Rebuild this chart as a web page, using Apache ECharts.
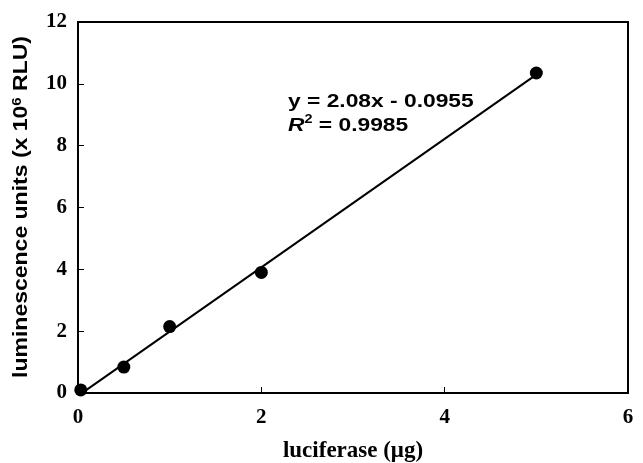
<!DOCTYPE html>
<html lang="en">
<head>
    <meta charset="UTF-8">
    <title>luciferase standard curve</title>
    <script type="text/javascript" src="https://cdn.jsdelivr.net/npm/echarts@6/dist/echarts.min.js"></script>
    <style type="text/css">
        html, body { margin: 0; padding: 0; background: #ffffff; }
        #main { width: 643px; height: 463px; }
    </style>
</head>
<body>
<div id="main"></div>
<script type="text/javascript">
    // measured points: luciferase (ug) vs luminescence (x 10^6 RLU)
    var luciferase = [0.03, 0.5, 1, 2, 5];
    var luminescence = [0.1, 0.84, 2.15, 3.9, 10.35];
    // linear fit endpoints
    var fitX = [0.05, 5];
    var fitY = [0.01, 10.3];
    var xTicks = [0, 2, 4, 6];
    var yTicks = [0, 2, 4, 6, 8, 10, 12];

    var pts = [];
    for (var i = 0; i < luciferase.length; i++) {
        pts.push([luciferase[i], luminescence[i]]);
    }
    var fit = [];
    for (var j = 0; j < fitX.length; j++) {
        fit.push([fitX[j], fitY[j]]);
    }

    var chart = echarts.init(document.getElementById('main'));
    var serifBold = {
        fontFamily: 'Liberation Serif',
        fontWeight: 'bold',
        fontSize: 21,
        color: '#000'
    };
    chart.setOption({
        animation: false,
        grid: {
            left: 78, right: 15, top: 22, bottom: 70,
            outerBoundsMode: 'none',
            containLabel: false,
            show: true, borderColor: '#000', borderWidth: 2
        },
        xAxis: {
            type: 'value',
            min: xTicks[0], max: xTicks[xTicks.length - 1], interval: 2,
            name: 'luciferase (\u03bcg)',
            nameLocation: 'middle',
            nameGap: 47,
            nameTextStyle: {
                fontFamily: 'Liberation Serif', fontWeight: 'bold', fontSize: 23, color: '#000'
            },
            axisLine: { lineStyle: { color: '#000', width: 2 } },
            axisTick: { inside: true, length: 6, lineStyle: { color: '#000', width: 1 } },
            axisLabel: Object.assign({ margin: 14 }, serifBold),
            splitLine: { show: false }
        },
        yAxis: {
            type: 'value',
            min: yTicks[0], max: yTicks[yTicks.length - 1], interval: 2,
            axisLine: { lineStyle: { color: '#000', width: 2 } },
            axisTick: { inside: true, length: 6, lineStyle: { color: '#000', width: 1 } },
            axisLabel: Object.assign({ margin: 11 }, serifBold),
            splitLine: { show: false }
        },
        series: [
            {
                name: 'fit',
                type: 'line',
                data: fit,
                symbol: 'none',
                lineStyle: { color: '#000', width: 2 },
                z: 2
            },
            {
                name: 'data',
                type: 'scatter',
                data: pts,
                symbolSize: 13,
                itemStyle: { color: '#000', opacity: 1 },
                z: 3
            }
        ],
        graphic: [
            {
                type: 'text',
                x: 21,
                y: 207,
                rotation: Math.PI / 2,
                scaleX: 1.15,
                style: {
                    text: 'luminescence units (x 10{sup|6} RLU)',
                    font: 'bold 20px "Liberation Sans"',
                    fill: '#000',
                    align: 'center',
                    verticalAlign: 'middle',
                    rich: {
                        sup: {
                            fontFamily: 'Liberation Sans', fontWeight: 'bold', fontSize: 13,
                            fill: '#000', verticalAlign: 'top', padding: [0, 0, 8, 0]
                        }
                    }
                }
            },
            {
                type: 'text',
                x: 288,
                y: 90,
                scaleX: 1.2,
                style: {
                    text: 'y = 2.08x - 0.0955\n{i|R}{s|2} = 0.9985',
                    font: 'bold 19px "Liberation Sans"',
                    fill: '#000',
                    lineHeight: 24,
                    verticalAlign: 'top',
                    rich: {
                        i: { fontStyle: 'italic', fontWeight: 'bold', fontSize: 19, fontFamily: 'Liberation Sans', fill: '#000', lineHeight: 24 },
                        s: { fontWeight: 'bold', fontSize: 12, fontFamily: 'Liberation Sans', fill: '#000', verticalAlign: 'top', padding: [0, 0, 7, 0], lineHeight: 24 }
                    }
                }
            }
        ]
    });
</script>
</body>
</html>
